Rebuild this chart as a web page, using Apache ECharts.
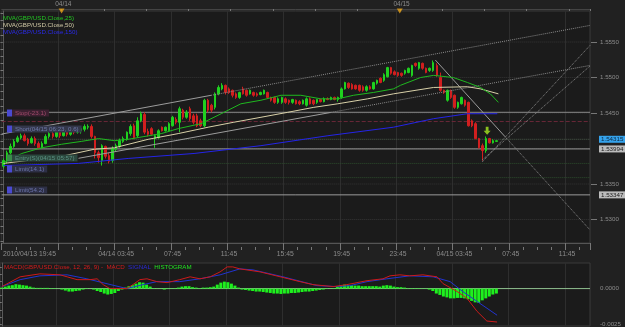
<!DOCTYPE html>
<html>
<head>
<meta charset="utf-8">
<title>GBP/USD 15 min</title>
<script src="https://cdn.jsdelivr.net/npm/echarts@6/dist/echarts.min.js"></script>
<style>
  html, body { margin: 0; padding: 0; background: #212121; }
  #main { width: 625px; height: 327px; }
</style>
</head>
<body>
<div id="main"></div>
<script>
// 15 minute bars, slot 0 = 2010/04/13 19:45
var slotCount = 167;
var timeLabelSlots = [0, 32, 48, 64, 80, 96, 112, 128, 144, 160];
var timeLabels = ['2010/04/13 19:45', '04/14 03:45', '07:45', '11:45', '15:45', '19:45', '23:45', '04/15 03:45', '07:45', '11:45'];
var daySlots = [17, 113];
var dayLabels = ['04/14', '04/15'];

// [open, close, low, high]
var candles = [
  [1.5375,1.5383,1.5372,1.5386],[1.5383,1.5394,1.5379,1.5397],[1.5394,1.5403,1.5392,1.5407],[1.5403,1.5410,1.5401,1.5413],
  [1.5410,1.5415,1.5408,1.5418],[1.5415,1.5418,1.5413,1.5421],[1.5418,1.5411,1.5410,1.5421],[1.5413,1.5407,1.5404,1.5415],
  [1.5408,1.5414,1.5407,1.5417],[1.5414,1.5407,1.5404,1.5417],[1.5407,1.5401,1.5399,1.5410],[1.5401,1.5407,1.5400,1.5410],
  [1.5407,1.5417,1.5406,1.5420],[1.5417,1.5421,1.5414,1.5425],[1.5421,1.5417,1.5414,1.5425],[1.5417,1.5423,1.5415,1.5427],
  [1.5423,1.5418,1.5415,1.5425],[1.5418,1.5424,1.5417,1.5428],[1.5424,1.5420,1.5417,1.5427],[1.5420,1.5425,1.5418,1.5430],
  [1.5425,1.5423,1.5420,1.5428],[1.5423,1.5427,1.5421,1.5430],[1.5425,1.5428,1.5421,1.5431],[1.5427,1.5431,1.5424,1.5434],
  [1.5430,1.5431,1.5427,1.5434],[1.5431,1.5417,1.5414,1.5434],[1.5417,1.5394,1.5386,1.5418],[1.5394,1.5387,1.5380,1.5397],
  [1.5383,1.5404,1.5376,1.5406],[1.5403,1.5389,1.5386,1.5404],[1.5390,1.5382,1.5379,1.5394],[1.5383,1.5400,1.5380,1.5403],
  [1.5399,1.5404,1.5396,1.5407],[1.5403,1.5411,1.5401,1.5414],[1.5410,1.5414,1.5408,1.5417],[1.5413,1.5423,1.5411,1.5424],
  [1.5421,1.5431,1.5418,1.5434],[1.5432,1.5415,1.5413,1.5435],[1.5418,1.5439,1.5415,1.5444],[1.5439,1.5449,1.5437,1.5452],
  [1.5448,1.5423,1.5420,1.5451],[1.5424,1.5420,1.5417,1.5428],[1.5428,1.5420,1.5418,1.5430],[1.5414,1.5418,1.5401,1.5420],
  [1.5415,1.5425,1.5414,1.5427],[1.5430,1.5425,1.5424,1.5431],[1.5425,1.5430,1.5424,1.5431],[1.5425,1.5435,1.5424,1.5437],
  [1.5432,1.5444,1.5431,1.5446],[1.5441,1.5437,1.5434,1.5444],[1.5437,1.5456,1.5423,1.5459],[1.5454,1.5444,1.5441,1.5456],
  [1.5444,1.5451,1.5442,1.5454],[1.5456,1.5442,1.5439,1.5459],[1.5446,1.5437,1.5434,1.5449],[1.5446,1.5432,1.5430,1.5449],
  [1.5439,1.5432,1.5430,1.5442],[1.5432,1.5468,1.5430,1.5470],[1.5468,1.5454,1.5451,1.5470],[1.5461,1.5454,1.5451,1.5463],
  [1.5458,1.5477,1.5455,1.5479],[1.5477,1.5486,1.5475,1.5489],[1.5484,1.5489,1.5482,1.5492],[1.5489,1.5479,1.5476,1.5490],
  [1.5484,1.5479,1.5477,1.5486],[1.5482,1.5475,1.5472,1.5483],[1.5477,1.5472,1.5470,1.5479],[1.5472,1.5479,1.5470,1.5480],
  [1.5484,1.5477,1.5476,1.5487],[1.5482,1.5475,1.5473,1.5483],[1.5477,1.5482,1.5476,1.5483],[1.5479,1.5475,1.5473,1.5480],
  [1.5477,1.5475,1.5473,1.5479],[1.5476,1.5479,1.5475,1.5480],[1.5477,1.5482,1.5476,1.5483],[1.5479,1.5472,1.5470,1.5480],
  [1.5472,1.5468,1.5466,1.5473],[1.5472,1.5465,1.5463,1.5473],[1.5465,1.5470,1.5463,1.5472],[1.5465,1.5472,1.5463,1.5473],
  [1.5470,1.5465,1.5463,1.5472],[1.5468,1.5465,1.5462,1.5469],[1.5465,1.5469,1.5463,1.5470],[1.5468,1.5463,1.5462,1.5469],
  [1.5466,1.5463,1.5461,1.5468],[1.5463,1.5468,1.5462,1.5469],[1.5461,1.5470,1.5459,1.5472],[1.5470,1.5463,1.5462,1.5472],
  [1.5468,1.5463,1.5461,1.5469],[1.5465,1.5469,1.5463,1.5470],[1.5469,1.5466,1.5465,1.5470],[1.5466,1.5470,1.5465,1.5472],
  [1.5470,1.5469,1.5468,1.5472],[1.5469,1.5472,1.5468,1.5473],[1.5472,1.5469,1.5468,1.5473],[1.5469,1.5472,1.5466,1.5473],
  [1.5472,1.5484,1.5470,1.5486],[1.5484,1.5493,1.5483,1.5494],[1.5492,1.5486,1.5484,1.5493],[1.5490,1.5484,1.5483,1.5492],
  [1.5489,1.5484,1.5483,1.5490],[1.5489,1.5482,1.5480,1.5490],[1.5487,1.5482,1.5480,1.5489],[1.5482,1.5487,1.5480,1.5489],
  [1.5487,1.5484,1.5483,1.5489],[1.5484,1.5493,1.5483,1.5494],[1.5492,1.5496,1.5490,1.5497],[1.5499,1.5493,1.5492,1.5500],
  [1.5496,1.5504,1.5494,1.5506],[1.5501,1.5514,1.5500,1.5515],[1.5514,1.5506,1.5504,1.5515],[1.5508,1.5504,1.5503,1.5510],
  [1.5507,1.5503,1.5501,1.5508],[1.5506,1.5503,1.5501,1.5507],[1.5506,1.5510,1.5504,1.5511],[1.5507,1.5513,1.5506,1.5514],
  [1.5503,1.5517,1.5501,1.5518],[1.5520,1.5517,1.5515,1.5521],[1.5513,1.5521,1.5511,1.5522],[1.5520,1.5513,1.5511,1.5521],
  [1.5513,1.5507,1.5506,1.5514],[1.5510,1.5513,1.5508,1.5514],[1.5510,1.5521,1.5508,1.5524],[1.5517,1.5503,1.5501,1.5520],
  [1.5500,1.5482,1.5480,1.5507],[1.5482,1.5479,1.5477,1.5483],[1.5468,1.5482,1.5466,1.5483],[1.5482,1.5472,1.5470,1.5483],
  [1.5475,1.5458,1.5456,1.5476],[1.5458,1.5465,1.5456,1.5466],[1.5463,1.5472,1.5462,1.5473],[1.5468,1.5461,1.5459,1.5469],
  [1.5465,1.5432,1.5431,1.5466],[1.5439,1.5432,1.5430,1.5441],[1.5435,1.5414,1.5413,1.5437],[1.5414,1.5401,1.5400,1.5415],
  [1.5404,1.5397,1.5383,1.5407],[1.5397,1.5414,1.5394,1.5417],[1.5414,1.5408,1.5407,1.5415],[1.5408,1.5411,1.5407,1.5413],
  [1.5410,1.5411,1.5410,1.5411]
];

// moving averages, [slot, price]
var mva25 = [[0,1.5380],[5.2,1.5393],[10.8,1.5401],[16.5,1.5406],[22.1,1.5410],[27,1.5414],[31.5,1.5411],[35.4,1.5413],
  [44.8,1.5421],[49.6,1.5428],[56.1,1.5435],[61.8,1.5449],[67.4,1.5463],[73.1,1.5468],[78.8,1.5475],[84.4,1.5475],
  [90.1,1.5470],[94.9,1.5470],[99.4,1.5475],[105.1,1.5479],[110.7,1.5484],[112.7,1.5489],[118.4,1.5500],[122.1,1.5503],
  [127.7,1.5500],[131.7,1.5493],[135.4,1.5486],[138.2,1.5477],[140.5,1.5465]];
var mva50 = [[0,1.5379],[16.5,1.5389],[25.8,1.5399],[31.5,1.5401],[41.1,1.5413],[49.6,1.5421],[58.1,1.5430],[65.4,1.5437],
  [73.1,1.5444],[80.7,1.5451],[88.1,1.5458],[94.9,1.5463],[103.4,1.5470],[110.7,1.5477],[122.1,1.5486],[131.7,1.5487],
  [135.4,1.5484],[140.5,1.5477]];
var mva150 = [[0,1.5376],[21.3,1.5379],[35.4,1.5386],[54.1,1.5393],[73.1,1.5404],[92.1,1.5418],[110.7,1.5430],
  [122.1,1.5442],[131.7,1.5449],[140.2,1.5449]];

// drawn trend lines, [slot, price] end points
var trendSolid = [
  [[-0.5,1.54204],[58.9,1.54749]],
  [[21.3,1.53862],[92.9,1.54508]],
  [[122.6,1.55246],[142.4,1.54166]]
];
var trendDotted = [
  [[58.9,1.54749],[166.5,1.55734]],
  [[92.9,1.54508],[166.5,1.55170]],
  [[142.4,1.54166],[166.5,1.52853]],
  [[135.9,1.53838],[166.5,1.55162]],
  [[135.9,1.53810],[166.5,1.55452]]
];

// horizontal levels and their right-hand price tags
var levelPrices = [1.5451, 1.5438, 1.5413, 1.53994, 1.5379, 1.5359, 1.53347];
var levelTags = ['', '', '1.54315', '1.53994', '', '', '1.53347'];
var gridPrices = [1.5550, 1.5500, 1.5450, 1.5400, 1.5350, 1.5300];
var priceLabels = [1.5300, 1.5350, 1.5450, 1.5500, 1.5550];

// order labels on the left
var orderTags = ['Stop(-23.1)', 'Short(04/15 06:23, 0.6)', 'Entry(S)(04/15 05:57)', 'Limit(14.1)', 'Limit(54.2)'];
var orderLevels = [1.5450, 1.54275, 1.53866, 1.53711, 1.53415];
var orderKinds = ['stop', 'short', 'entry', 'limit', 'limit'];

var signalArrow = [[137.3, 1.5425]];

// MACD(12, 26, 9)
var histogram = [
  0.00007,0.00014,0.00021,0.00024,0.00031,0.00028,0.00024,0.00021,0.00014,0.00007,
  0.00005,0.00005,0.00005,0.00005,0.00003,0.00003,0.00001,-0.00007,-0.00014,-0.00021,
  -0.00021,-0.00017,-0.00014,-0.00007,-0.00003,-0.00001,-0.00007,-0.00017,-0.00024,-0.00035,
  -0.00042,-0.00038,-0.00031,-0.00017,-0.00007,0.00007,0.00017,0.00024,0.00035,0.00045,
  0.00042,0.00028,0.00014,0.00003,0.00002,0.00002,-0.00007,-0.00003,0.00002,0.00003,
  0.00007,0.00014,0.00017,0.00017,0.0001,0.00007,0.00003,0.00007,0.00007,0.0001,
  0.00014,0.00028,0.00042,0.00049,0.00045,0.00035,0.00021,0.00007,-0.00007,-0.0001,
  -0.00014,-0.00017,-0.00021,-0.00021,-0.00024,-0.00028,-0.00031,-0.00035,-0.00035,-0.00038,
  -0.00035,-0.00035,-0.00031,-0.00031,-0.00028,-0.00024,-0.00021,-0.00021,-0.00017,-0.00014,
  -0.0001,-0.00007,-0.00003,0.00001,0.00003,0.00017,0.00024,0.00028,0.00024,0.00024,
  0.00021,0.00021,0.00017,0.00017,0.00017,0.00017,0.00017,0.00014,0.00021,0.00024,
  0.00021,0.00014,0.0001,0.0001,0.00007,0.00003,0.00003,0.00003,0.00003,0.00002,
  0.00002,-0.00007,-0.00017,-0.00035,-0.00045,-0.00056,-0.00062,-0.00069,-0.00069,-0.00066,
  -0.00066,-0.00069,-0.00076,-0.00087,-0.00097,-0.00101,-0.00083,-0.00069,-0.00056,-0.00042,
  -0.00035
];
var macdLine = [[0,0.00014],[5.2,0.00083],[10.8,0.00104],[16.5,0.00097],[18.5,0.00083],[21.3,0.00063],[25,0.00063],
  [27,0.00069],[28.7,0.00028],[30.6,0],[35.4,0],[37.1,0.00028],[39.1,0.00063],[41.1,0.00069],[43.9,0.00049],
  [46.8,0.00042],[50.4,0.00063],[53.3,0.00083],[56.1,0.00069],[59,0.00083],[61.8,0.00118],[63.8,0.00153],
  [65.4,0.00153],[67.4,0.00139],[73.1,0.00118],[84.4,0.00049],[88.1,0.00028],[93.8,0.00014],[97.7,0.00028],
  [103.4,0.00056],[107.9,0.00069],[109.9,0.0009],[112.7,0.00097],[115.5,0.0009],[119.2,0.00097],[123.2,0.00083],
  [124.9,0.00035],[128.9,-0.00021],[131.7,-0.00069],[134.5,-0.0016],[137.3,-0.00229],[140.2,-0.00236]];
var signalLine = [[0,0.00014],[5.2,0.00063],[10.8,0.0009],[18.5,0.00097],[24.1,0.00069],[35.4,0],[40,0.00028],
  [43.9,0.00049],[50.4,0.00049],[56.1,0.00069],[61.8,0.00097],[67.4,0.00139],[71.1,0.00132],[79.6,0.00083],
  [89.2,0.00021],[94.9,0.00014],[98.6,0.00021],[103.4,0.00049],[109,0.00069],[115.5,0.0009],[122.1,0.00083],
  [126.9,0.00049],[130.5,-0.00021],[134.5,-0.0009],[140.2,-0.00188]];
var macdLabels = [0, -0.0025];

var priceMin = 1.52669, priceMax = 1.55937;
var macdMin = -0.0026389, macdMax = 0.0018056;

// category names for every 15 minute slot
var cats = [];
var t0 = Date.UTC(2010, 3, 13, 19, 45);
function pad(n) { return n < 10 ? '0' + n : '' + n; }
for (var i = 0; i < slotCount; i++) {
    var d = new Date(t0 + i * 900000);
    cats.push(pad(d.getUTCMonth() + 1) + '/' + pad(d.getUTCDate()) + ' ' + pad(d.getUTCHours()) + ':' + pad(d.getUTCMinutes()));
}
var priceTicks = [];
for (var k = 1527; k <= 1559; k++) priceTicks.push(k / 1000);
var macdTicks = [];
for (var m = -5; m <= 3; m++) macdTicks.push(m * 0.0005);

var bull = '#1fd11f', bear = '#d11f1f';
var font = 'Liberation Sans';
var xFirst = -0.5, xLast = slotCount - 0.5;

var levelStyles = [
    {type: 'solid', color: '#8a8a8a'},
    {type: 'dashed', color: '#6a2838'},
    {type: 'dotted', color: '#4d5d4d'},
    {type: 'solid', color: '#9a9a9a'},
    {type: 'dotted', color: '#2d4d2d'},
    {type: 'dotted', color: '#2d4d2d'},
    {type: 'solid', color: '#9a9a9a'}
];
var tagStyles = {
    '1.54315': {bg: '#35a3ec', fg: '#0b2740'},
    '1.53994': {bg: '#bcbcbc', fg: '#1a1a1a'},
    '1.53347': {bg: '#bcbcbc', fg: '#1a1a1a'}
};

function overlay(data, color, type, z) {
    return {
        type: 'line', xAxisIndex: 3, yAxisIndex: 0, data: data, symbol: 'none', silent: true,
        lineStyle: {color: color, width: 1, type: type || 'solid'}, z: z || 3
    };
}

var series = [];
gridPrices.forEach(function (p) {
    series.push(overlay([[xFirst, p], [xLast, p]], '#363636', 'dotted', 1));
});
levelPrices.forEach(function (p, idx) {
    var s = overlay([[xFirst, p], [xLast, p]], levelStyles[idx].color, levelStyles[idx].type, 1);
    var tag = levelTags[idx];
    if (tag) {
        s.endLabel = {
            show: true, distance: 9, formatter: tag,
            backgroundColor: tagStyles[tag].bg, color: tagStyles[tag].fg,
            padding: [1, 2, 0, 2], fontSize: 6.2, fontFamily: font
        };
    }
    series.push(s);
});

series.push({
    type: 'candlestick',
    xAxisIndex: 0, yAxisIndex: 0,
    data: candles,
    barWidth: 2, z: 2,
    itemStyle: {color: bull, color0: bear, borderColor: bull, borderColor0: bear, borderWidth: 1}
});

trendSolid.forEach(function (seg) { series.push(overlay(seg, '#9c9c9c', 'solid', 3)); });
trendDotted.forEach(function (seg) { series.push(overlay(seg, '#8a8a8a', 'dotted', 3)); });
series.push(overlay(mva150, '#2424e8', 'solid', 4));
series.push(overlay(mva50, '#d8d0a8', 'solid', 4));
series.push(overlay(mva25, '#1fb81f', 'solid', 4));

series.push({
    type: 'scatter', xAxisIndex: 3, yAxisIndex: 0, data: signalArrow, silent: true, z: 5,
    symbol: 'path://M3,0 L7,0 L7,5 L10,5 L5,10 L0,5 L3,5 Z', symbolSize: [7, 8],
    itemStyle: {color: '#a8e820'}
});
series.push({
    type: 'scatter', xAxisIndex: 3, yAxisIndex: 0, clip: false, silent: true, z: 5,
    data: daySlots.map(function (s) { return [s - 0.5, priceMax]; }),
    symbol: 'triangle', symbolRotate: 180, symbolSize: [6, 5],
    itemStyle: {color: '#e8a317'}
});

series.push({
    type: 'line', xAxisIndex: 5, yAxisIndex: 2, data: [[xFirst, 0], [xLast, 0]], symbol: 'none', silent: true, z: 1,
    lineStyle: {color: '#8fbf8f', width: 1}
});
series.push({
    type: 'bar', xAxisIndex: 4, yAxisIndex: 2, data: histogram, barWidth: 3, silent: true, z: 2,
    itemStyle: {color: '#1ef01e'}
});
series.push({type: 'line', xAxisIndex: 5, yAxisIndex: 2, data: signalLine, symbol: 'none', silent: true, z: 3,
    lineStyle: {color: '#2233d0', width: 1}});
series.push({type: 'line', xAxisIndex: 5, yAxisIndex: 2, data: macdLine, symbol: 'none', silent: true, z: 3,
    lineStyle: {color: '#cc1a1a', width: 1}});

var option = {
    animation: false,
    backgroundColor: '#212121',
    textStyle: {fontFamily: font},
    grid: [
        {left: 0, right: 35, top: 11, height: 232, show: true, backgroundColor: '#1b1b1b', borderColor: '#3a3a3a', borderWidth: 1},
        {left: 0, right: 35, top: 263, height: 64, show: true, backgroundColor: '#1b1b1b', borderColor: '#3a3a3a', borderWidth: 1}
    ],
    xAxis: [
        {   // time labels, 4h ticks, vertical grid
            type: 'category', gridIndex: 0, position: 'bottom', data: cats, boundaryGap: true,
            axisLine: {show: true, lineStyle: {color: '#555'}},
            axisTick: {show: true, length: 7, interval: function (i) { return i % 16 === 0; }, lineStyle: {color: '#777'}},
            axisLabel: {
                show: true, color: '#8c8c8c', fontSize: 6.8, margin: 8,
                interval: function (i) { return timeLabelSlots.indexOf(i) >= 0; },
                formatter: function (v, i) {
                    var n = timeLabelSlots.indexOf(i);
                    return n === 0 ? '{l|' + timeLabels[n] + '}' : (n > 0 ? timeLabels[n] : '');
                },
                rich: {l: {fontSize: 6.8, color: '#8c8c8c', align: 'left', padding: [0, 0, 0, 52]}}
            },
            splitLine: {show: true, interval: function (i) { return i % 16 === 0; }, lineStyle: {color: '#2e2e2e'}}
        },
        {   // hourly ticks
            type: 'category', gridIndex: 0, position: 'bottom', offset: 7, data: cats, boundaryGap: true,
            axisLine: {show: false},
            axisTick: {show: true, inside: true, length: 3, interval: function (i) { return i % 4 === 0; }, lineStyle: {color: '#777'}},
            axisLabel: {show: false}, splitLine: {show: false}
        },
        {   // day strip on top
            type: 'category', gridIndex: 0, position: 'top', offset: 2, data: cats, boundaryGap: true,
            axisLine: {show: true, lineStyle: {color: '#444'}},
            axisTick: {show: true, inside: true, length: 2, lineStyle: {color: '#777'},
                interval: function (i) { return i >= 17 && (i - 17) % 12 === 0; }},
            axisLabel: {
                show: true, color: '#8c8c8c', fontSize: 6.5, margin: 1.5,
                interval: function (i) { return daySlots.indexOf(i) >= 0; },
                formatter: function (v, i) { var n = daySlots.indexOf(i); return n >= 0 ? dayLabels[n] : ''; }
            },
            splitLine: {show: false}
        },
        {type: 'value', gridIndex: 0, min: xFirst, max: xLast, show: false},
        {
            type: 'category', gridIndex: 1, data: cats, boundaryGap: true,
            axisLine: {show: false}, axisTick: {show: false}, axisLabel: {show: false},
            splitLine: {show: true, interval: function (i) { return i % 16 === 0; }, lineStyle: {color: '#2e2e2e'}}
        },
        {type: 'value', gridIndex: 1, min: xFirst, max: xLast, show: false}
    ],
    yAxis: [
        {
            type: 'value', gridIndex: 0, position: 'right', offset: 7, min: priceMin, max: priceMax,
            axisLine: {show: true, lineStyle: {color: '#5a5a5a'}},
            axisTick: {show: true, inside: true, length: 3, customValues: priceTicks, lineStyle: {color: '#777'}},
            axisLabel: {show: true, customValues: priceLabels, color: '#8c8c8c', fontSize: 6.2, margin: 3,
                formatter: function (v) { return v.toFixed(4); }},
            splitLine: {show: false}
        },
        {
            type: 'value', gridIndex: 0, position: 'right', offset: 7, min: priceMin, max: priceMax,
            axisLine: {show: false},
            axisTick: {show: true, inside: true, length: 6, customValues: priceLabels, lineStyle: {color: '#777'}},
            axisLabel: {show: false}, splitLine: {show: false}
        },
        {
            type: 'value', gridIndex: 1, position: 'right', offset: 7, min: macdMin, max: macdMax,
            axisLine: {show: true, lineStyle: {color: '#5a5a5a'}},
            axisTick: {show: true, inside: true, length: 3, customValues: macdTicks, lineStyle: {color: '#777'}},
            axisLabel: {show: true, customValues: macdLabels, color: '#8c8c8c', fontSize: 6.2, margin: 3,
                formatter: function (v) { return v.toFixed(4); }},
            splitLine: {show: false}
        }
    ],
    series: series
};

var chart = echarts.init(document.getElementById('main'));
chart.setOption(option);

// text overlays: legend, MACD title, order tags at their price levels
var legendLines = ['MVA(GBP/USD.Close,25)', 'MVA(GBP/USD.Close,50)', 'MVA(GBP/USD.Close,150)'];
var legendColors = ['#22c322', '#cfc8a4', '#2a2ae8'];
var elements = [];
legendLines.forEach(function (t, n) {
    elements.push({type: 'text', x: 3, y: 18 + n * 7, silent: true, z: 10,
        style: {text: t, fill: legendColors[n], fontSize: 6.2, fontFamily: font, verticalAlign: 'middle'}});
});
elements.push({type: 'text', x: 4, y: 267.5, silent: true, z: 10, style: {
    text: '{r|MACD(GBP/USD.Close, 12, 26, 9) -  MACD}  {b|SIGNAL}  {g|HISTOGRAM}',
    fontSize: 6.2, fontFamily: font, verticalAlign: 'middle',
    rich: {r: {fill: '#d41c1c', fontSize: 6.2}, b: {fill: '#2a2ad8', fontSize: 6.2}, g: {fill: '#22e022', fontSize: 6.2}}
}});
var tagLook = {
    stop: {sq: '#4a4ad0', bg: '#3b2030', fg: '#a04a6a'},
    short: {sq: '#4a4ad0', bg: '#33374a', fg: '#6e78a8'},
    entry: {sq: '#3a8a4a', bg: '#2b473d', fg: '#5a9080'},
    limit: {sq: '#4a4ad0', bg: '#2d2f45', fg: '#6a72a8'}
};
orderTags.forEach(function (t, n) {
    var y = chart.convertToPixel({yAxisIndex: 0}, orderLevels[n]);
    var look = tagLook[orderKinds[n]];
    elements.push({type: 'rect', silent: true, z: 10, shape: {x: 7, y: Math.round(y) - 3.5, width: 5, height: 7},
        style: {fill: look.sq}});
    elements.push({type: 'text', x: 12, y: Math.round(y), silent: true, z: 10, style: {
        text: t, fill: look.fg, backgroundColor: look.bg, padding: [1, 3, 0, 3],
        fontSize: 6.2, fontFamily: font, verticalAlign: 'middle'
    }});
});
chart.setOption({graphic: {elements: elements}});
</script>
</body>
</html>
